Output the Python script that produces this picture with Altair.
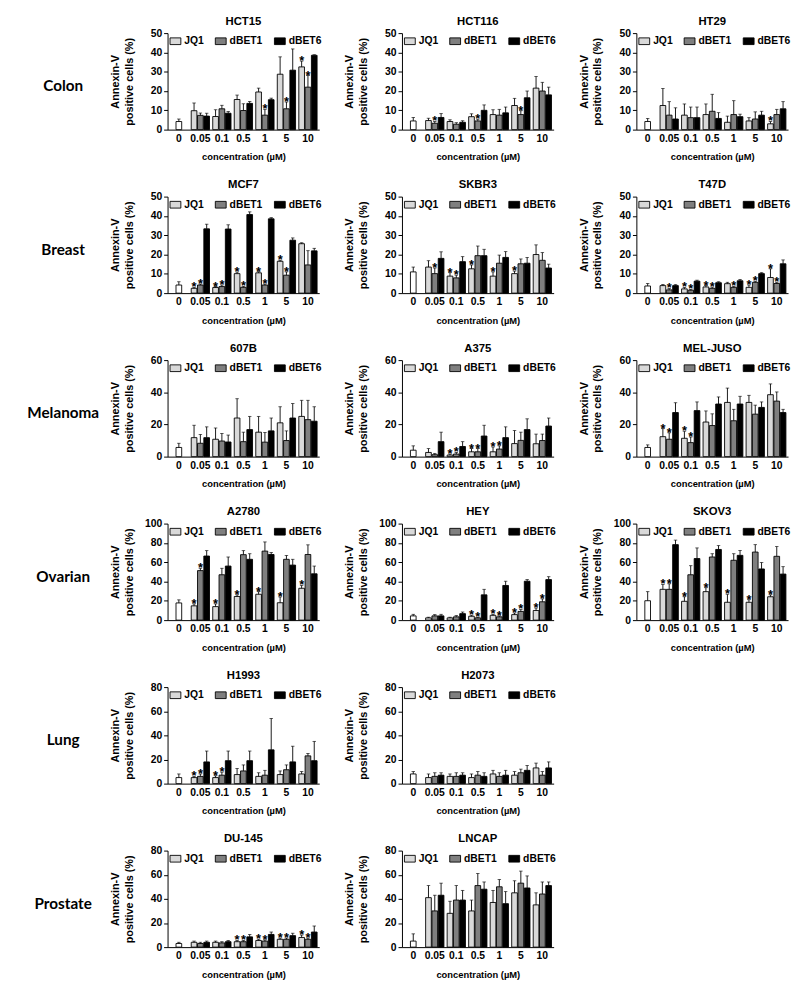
import altair as alt
import pandas as pd

CONC = ["0", "0.05", "0.1", "0.5", "1", "5", "10"]
DRUGS = ["JQ1", "dBET1", "dBET6"]
COLORS = ["#d9d9d9", "#7f7f7f", "#000000"]

# ---- data per cell line (values for 0.05, 0.1, 0.5, 1, 5, 10 uM) ----
HCT15 = {"ctrl": (4.2, 1.3),
         "JQ1": [9.8, 6.8, 15.6, 19.5, 28.7, 32.5], "JQ1_sd": [4.0, 3.5, 2.3, 2.0, 9.0, 3.0], "JQ1_star": [0, 0, 0, 0, 0, 1],
         "dBET1": [7.4, 10.8, 9.9, 7.5, 10.8, 22.0], "dBET1_sd": [1.2, 1.8, 3.5, 3.0, 3.5, 6.0], "dBET1_star": [0, 0, 0, 1, 1, 1],
         "dBET6": [7.0, 8.5, 13.6, 15.5, 30.8, 38.5], "dBET6_sd": [1.5, 0.9, 1.0, 0.8, 11.0, 0.3]}
HCT116 = {"ctrl": (4.5, 1.8),
          "JQ1": [4.7, 4.2, 6.7, 7.8, 12.5, 21.5], "JQ1_sd": [1.2, 0.9, 1.5, 2.5, 3.7, 6.0],
          "dBET1": [3.3, 2.8, 4.5, 7.5, 7.8, 20.0], "dBET1_sd": [0.9, 0.8, 0.9, 3.0, 2.0, 4.5], "dBET1_star": [1, 0, 1, 0, 1, 0],
          "dBET6": [6.3, 3.8, 10.0, 8.7, 16.5, 18.0], "dBET6_sd": [2.0, 0.8, 2.8, 3.0, 3.5, 4.0]}
HT29 = {"ctrl": (4.2, 1.6),
        "JQ1": [12.5, 7.5, 7.8, 3.8, 4.5, 3.0], "JQ1_sd": [8.8, 5.8, 5.5, 3.2, 1.7, 1.2], "JQ1_star": [0, 0, 0, 0, 0, 1],
        "dBET1": [7.5, 6.2, 9.5, 7.8, 5.5, 7.8], "dBET1_sd": [7.0, 5.5, 8.8, 7.2, 3.7, 2.7],
        "dBET6": [5.5, 6.2, 5.8, 6.7, 7.5, 10.8], "dBET6_sd": [5.8, 5.5, 3.0, 1.3, 2.0, 3.7]}
MCF7 = {"ctrl": (4.2, 1.7),
        "JQ1": [2.5, 2.9, 10.1, 10.5, 16.5, 25.6], "JQ1_sd": [0.5, 0.5, 0.8, 0.6, 0.5, 0.5], "JQ1_star": [1, 1, 1, 1, 1, 0],
        "dBET1": [4.2, 3.4, 3.0, 4.2, 9.3, 14.6], "dBET1_sd": [0.5, 0.8, 0.5, 0.5, 1.7, 7.4], "dBET1_star": [1, 1, 1, 1, 1, 0],
        "dBET6": [33.3, 33.2, 40.7, 38.5, 27.4, 21.9], "dBET6_sd": [2.4, 2.2, 1.4, 0.6, 1.2, 1.3]}
SKBR3 = {"ctrl": (11.0, 2.5),
         "JQ1": [13.5, 8.8, 12.6, 8.8, 10.1, 20.0], "JQ1_sd": [3.3, 1.8, 2.0, 2.2, 1.3, 5.0], "JQ1_star": [0, 1, 1, 1, 1, 0],
         "dBET1": [10.1, 7.9, 19.4, 15.5, 15.2, 17.0], "dBET1_sd": [2.9, 1.4, 5.0, 4.2, 2.5, 4.0], "dBET1_star": [1, 1, 0, 0, 0, 0],
         "dBET6": [18.0, 16.3, 19.4, 18.5, 15.5, 13.0], "dBET6_sd": [3.4, 2.6, 3.3, 3.0, 3.0, 2.0]}
T47D = {"ctrl": (3.7, 1.3),
        "JQ1": [3.9, 2.2, 3.2, 4.9, 3.0, 8.1], "JQ1_sd": [0.6, 0.7, 0.7, 0.7, 1.2, 4.5], "JQ1_star": [0, 1, 1, 0, 1, 1],
        "dBET1": [1.7, 1.5, 2.5, 3.0, 5.6, 5.0], "dBET1_sd": [0.7, 0.4, 0.6, 0.5, 0.5, 0.6], "dBET1_star": [1, 1, 1, 1, 1, 1],
        "dBET6": [3.9, 6.2, 5.4, 6.4, 10.1, 15.2], "dBET6_sd": [0.5, 0.5, 0.5, 0.7, 0.5, 2.0]}
B607 = {"ctrl": (5.7, 2.6),
        "JQ1": [11.8, 10.8, 24.0, 15.2, 21.0, 25.0], "JQ1_sd": [7.7, 7.0, 12.0, 9.8, 10.0, 10.0],
        "dBET1": [8.3, 9.7, 9.3, 9.0, 10.0, 23.0], "dBET1_sd": [5.5, 4.7, 5.9, 6.0, 6.0, 12.0],
        "dBET6": [11.8, 9.1, 16.8, 16.0, 24.0, 22.0], "dBET6_sd": [6.7, 4.3, 8.2, 8.0, 9.0, 9.0]}
A375 = {"ctrl": (4.0, 2.7),
        "JQ1": [2.6, 1.0, 3.0, 3.0, 8.1, 8.0], "JQ1_sd": [2.4, 0.6, 2.0, 3.0, 8.1, 6.0], "JQ1_star": [0, 1, 1, 1, 0, 0],
        "dBET1": [1.2, 1.6, 3.0, 4.7, 10.1, 10.0], "dBET1_sd": [0.8, 1.0, 2.0, 2.0, 5.1, 4.0], "dBET1_star": [0, 1, 1, 1, 0, 0],
        "dBET6": [9.3, 6.3, 12.8, 11.8, 16.8, 19.0], "dBET6_sd": [5.9, 3.0, 6.7, 6.7, 6.7, 5.0]}
MELJUSO = {"ctrl": (5.7, 1.6),
           "JQ1": [12.4, 11.4, 21.5, 33.7, 33.7, 38.5], "JQ1_sd": [5.0, 4.4, 6.9, 8.9, 4.4, 6.7], "JQ1_star": [1, 1, 0, 0, 0, 0],
           "dBET1": [10.8, 8.7, 19.3, 22.3, 26.4, 34.5], "dBET1_sd": [4.0, 3.5, 7.3, 7.1, 5.6, 5.7], "dBET1_star": [1, 1, 0, 0, 0, 0],
           "dBET6": [27.4, 28.6, 32.7, 32.7, 30.6, 27.4], "dBET6_sd": [6.1, 5.4, 4.4, 4.8, 3.4, 2.0]}
A2780 = {"ctrl": (17.8, 3.2),
         "JQ1": [14.8, 14.0, 24.5, 26.8, 18.0, 33.0], "JQ1_sd": [2.0, 2.8, 1.7, 2.7, 6.0, 3.0], "JQ1_star": [1, 1, 1, 1, 1, 1],
         "dBET1": [51.3, 47.0, 67.8, 71.5, 63.0, 68.0], "dBET1_sd": [2.4, 6.7, 4.2, 9.5, 4.0, 10.0], "dBET1_star": [1, 0, 0, 0, 0, 0],
         "dBET6": [66.4, 56.0, 63.0, 68.0, 57.0, 48.0], "dBET6_sd": [5.6, 9.4, 5.8, 2.0, 6.0, 8.0]}
HEY = {"ctrl": (4.4, 1.6),
       "JQ1": [2.3, 2.3, 4.0, 5.0, 5.7, 10.0], "JQ1_sd": [0.7, 0.7, 1.0, 1.0, 1.7, 2.5], "JQ1_star": [0, 0, 1, 1, 1, 1],
       "dBET1": [4.4, 3.4, 2.3, 3.4, 9.0, 19.0], "dBET1_sd": [1.3, 1.3, 0.7, 1.0, 2.0, 3.0], "dBET1_star": [0, 0, 1, 1, 1, 1],
       "dBET6": [4.4, 6.7, 26.2, 35.9, 40.3, 42.0], "dBET6_sd": [1.6, 1.7, 5.7, 4.4, 1.7, 3.0]}
SKOV3 = {"ctrl": (20.1, 9.4),
         "JQ1": [31.9, 19.5, 29.5, 18.5, 18.5, 24.2], "JQ1_sd": [5.0, 4.7, 4.1, 8.3, 2.6, 2.0], "JQ1_star": [1, 1, 1, 1, 1, 1],
         "dBET1": [31.9, 47.0, 65.4, 62.0, 70.5, 66.1], "dBET1_sd": [5.7, 9.4, 3.4, 6.8, 7.7, 10.1], "dBET1_star": [1, 0, 0, 0, 0, 0],
         "dBET6": [78.2, 63.8, 73.2, 67.1, 53.0, 47.7], "dBET6_sd": [4.7, 11.0, 4.0, 5.0, 6.7, 7.7]}
H1993 = {"ctrl": (5.0, 3.0),
         "JQ1": [5.0, 5.0, 7.5, 6.0, 7.5, 8.0], "JQ1_sd": [1.0, 1.5, 5.0, 3.0, 3.0, 2.0], "JQ1_star": [1, 1, 0, 0, 0, 0],
         "dBET1": [6.0, 7.0, 10.5, 7.0, 11.5, 23.0], "dBET1_sd": [2.0, 2.5, 5.0, 4.0, 4.0, 2.0], "dBET1_star": [1, 1, 0, 0, 0, 0],
         "dBET6": [18.0, 19.0, 19.0, 28.0, 18.0, 19.0], "dBET6_sd": [9.0, 8.0, 8.0, 26.0, 13.0, 16.0]}
H2073 = {"ctrl": (8.0, 2.0),
         "JQ1": [5.0, 6.0, 5.0, 8.0, 7.0, 13.0], "JQ1_sd": [3.0, 2.0, 3.0, 3.0, 3.0, 4.0],
         "dBET1": [6.0, 6.0, 7.0, 6.0, 9.0, 7.0], "dBET1_sd": [3.0, 3.0, 3.0, 3.0, 3.0, 3.0],
         "dBET6": [7.0, 7.0, 6.0, 7.0, 11.0, 13.0], "dBET6_sd": [2.0, 2.0, 3.0, 4.0, 4.0, 5.0]}
DU145 = {"ctrl": (3.0, 1.0),
         "JQ1": [4.0, 4.0, 4.5, 5.5, 6.5, 8.0], "JQ1_sd": [1.0, 1.0, 1.0, 1.0, 1.0, 2.0], "JQ1_star": [0, 0, 1, 1, 1, 1],
         "dBET1": [3.0, 3.5, 4.5, 5.0, 6.5, 6.5], "dBET1_sd": [1.0, 1.0, 1.0, 1.0, 1.0, 1.0], "dBET1_star": [0, 0, 1, 1, 1, 1],
         "dBET6": [4.0, 4.5, 8.5, 10.5, 9.5, 12.5], "dBET6_sd": [1.0, 1.0, 2.0, 2.0, 2.0, 5.0]}
LNCAP = {"ctrl": (5.0, 6.0),
         "JQ1": [41.0, 28.0, 30.0, 37.0, 45.0, 35.0], "JQ1_sd": [10.0, 10.0, 9.0, 10.0, 10.0, 10.0],
         "dBET1": [30.0, 39.0, 51.0, 50.0, 53.0, 44.0], "dBET1_sd": [13.0, 12.0, 10.0, 6.0, 10.0, 10.0],
         "dBET6": [43.0, 39.0, 48.0, 36.0, 49.0, 51.0], "dBET6_sd": [10.0, 8.0, 6.0, 10.0, 10.0, 3.0]}

ROWS = [
    ("Colon", 50, 10, [("HCT15", HCT15), ("HCT116", HCT116), ("HT29", HT29)]),
    ("Breast", 50, 10, [("MCF7", MCF7), ("SKBR3", SKBR3), ("T47D", T47D)]),
    ("Melanoma", 60, 20, [("607B", B607), ("A375", A375), ("MEL-JUSO", MELJUSO)]),
    ("Ovarian", 100, 20, [("A2780", A2780), ("HEY", HEY), ("SKOV3", SKOV3)]),
    ("Lung", 80, 20, [("H1993", H1993), ("H2073", H2073)]),
    ("Prostate", 80, 20, [("DU-145", DU145), ("LNCAP", LNCAP)]),
]

FONT = "Liberation Sans"
W, H = 154, 98
WL = 95


def panel_df(d):
    recs = [dict(conc="0", drug="ctrl", slot="dBET1", value=d["ctrl"][0], sd=d["ctrl"][1], star=0)]
    for drug in DRUGS:
        stars = d.get(drug + "_star", [0] * 6)
        for i, c in enumerate(CONC[1:]):
            recs.append(dict(conc=c, drug=drug, slot=drug, value=d[drug][i],
                             sd=d[drug + "_sd"][i], star=stars[i]))
    df = pd.DataFrame(recs)
    df["top"] = df["value"] + df["sd"]
    return df


def panel(name, d, ymax, step):
    df = panel_df(d)
    xaxis = alt.Axis(title="concentration (µM)", labelAngle=0, ticks=False, labelPadding=4,
                     labelFontSize=10.5, labelFontWeight="bold", titleFontSize=9.5,
                     titleFontWeight="bold", titlePadding=8)
    x = alt.X("conc:N", sort=CONC, scale=alt.Scale(domain=CONC, paddingInner=0.15, paddingOuter=0.1), axis=xaxis)
    xo = alt.XOffset("slot:N", scale=alt.Scale(domain=DRUGS, paddingInner=0.1, paddingOuter=0.0))
    yscale = alt.Scale(domain=[0, ymax], nice=False)
    yaxis = alt.Axis(values=list(range(0, ymax + 1, step)), title=["Annexin-V", "positive cells (%)"],
                     tickSize=4, labelFontSize=10.5, labelFontWeight="bold", labelPadding=2,
                     titleFontSize=11, titleFontWeight="bold", titlePadding=10, titleLineHeight=14,
                     minExtent=24, maxExtent=24)

    def Y(field):
        return alt.Y(field, scale=yscale, axis=yaxis)

    base = alt.Chart(df)
    ctrl = base.transform_filter("datum.drug == 'ctrl'").mark_bar(
        fill="white", stroke="black", strokeWidth=0.9).encode(x=x, xOffset=xo, y=Y("value:Q"))
    bars = base.transform_filter("datum.drug != 'ctrl'").mark_bar(
        stroke="black", strokeWidth=0.9).encode(
        x=x, xOffset=xo, y=Y("value:Q"),
        color=alt.Color("drug:N", scale=alt.Scale(domain=DRUGS, range=COLORS),
                        legend=alt.Legend(title=None, orient="top-left", direction="horizontal", offset=2,
                                          symbolType="M-1,-0.62H1V0.62H-1Z", symbolSize=121,
                                          symbolStrokeColor="black", symbolStrokeWidth=0.9,
                                          labelFont=FONT, labelFontSize=10.5, labelFontWeight="bold",
                                          labelOffset=3, columnPadding=9, padding=0)))
    err = base.mark_rule(color="black", strokeWidth=0.9).encode(
        x=x, xOffset=xo, y=Y("value:Q"), y2="top:Q")
    cap = base.mark_tick(color="black", thickness=0.9, size=3.5).encode(
        x=x, xOffset=xo, y=Y("top:Q"))
    stars = base.transform_filter("datum.star == 1").mark_text(
        text="*", font=FONT, fontSize=13, fontWeight="bold", baseline="alphabetic", dy=4,
        color="black").encode(x=x, xOffset=xo, y=Y("top:Q"))
    return alt.layer(ctrl, bars, err, cap, stars).properties(
        width=W, height=H,
        title=alt.TitleParams(text=name, font=FONT, fontSize=11.5, fontWeight="bold", offset=1))


def row_label(text):
    return alt.Chart(pd.DataFrame({"t": [text]})).mark_text(
        font="Lato", fontSize=15.5, fontWeight="bold", align="center", baseline="middle", color="black"
    ).encode(text="t:N", x=alt.value(50), y=alt.value(H / 2 + 5)).properties(width=WL, height=H)


def indep(c):
    return c.resolve_scale(color="independent").resolve_legend(color="independent")


rows = []
for label, ymax, step, panels in ROWS:
    inner = indep(alt.hconcat(*[panel(n, d, ymax, step) for n, d in panels], spacing=20))
    rows.append(indep(alt.hconcat(row_label(label), inner, spacing=0)))

chart = indep(alt.vconcat(*rows, spacing=17)).properties(
    padding={"left": 5, "top": 0, "right": 0, "bottom": 0}
).configure_view(stroke="transparent").configure_axis(
    domainColor="black", tickColor="black", labelColor="black", titleColor="black",
    grid=False, labelFont=FONT, titleFont=FONT, domainWidth=1, tickWidth=1
).configure_title(color="black")

chart.save("out.html", embed_options={"renderer": "svg", "actions": False})
